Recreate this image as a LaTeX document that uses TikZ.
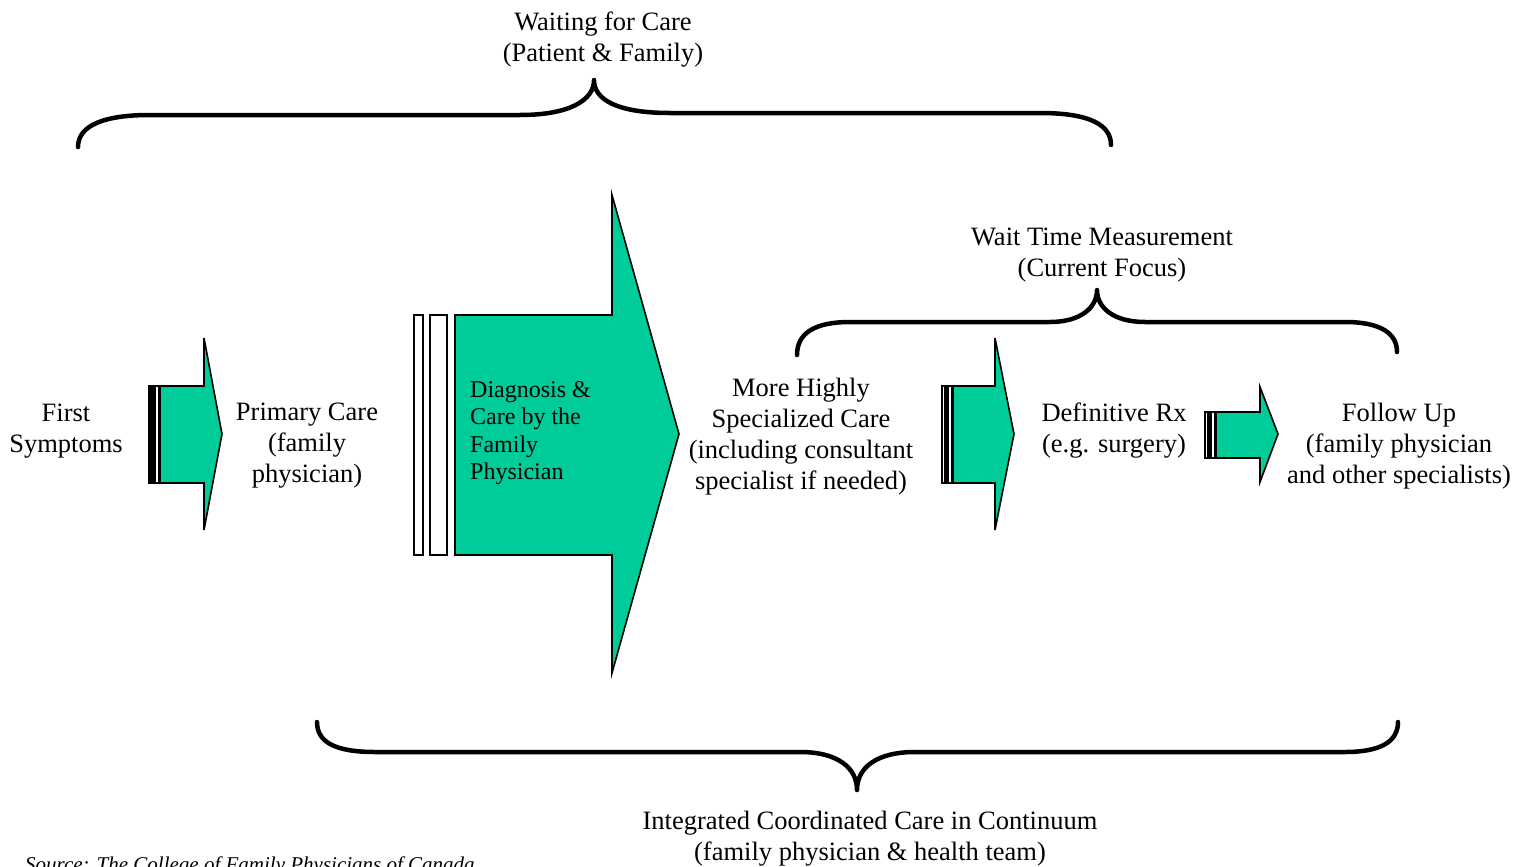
\documentclass[tikz,border=0pt]{standalone}
\usepackage{fontspec}
\setmainfont{Liberation Serif}
\definecolor{pgreen}{RGB}{0,204,153}
\tikzset{
  lbl/.style={inner sep=0pt, align=center, font=\fontsize{26.5}{31}\selectfont},
  lblsmall/.style={inner sep=0pt, align=left, font=\fontsize{24}{27.5}\selectfont},
  brace/.style={line width=4.5pt, line cap=round, line join=round},
  arrowbody/.style={draw=black, fill=pgreen, line width=1.6pt, line join=miter},
  stripe/.style={draw=black, fill=white, line width=1.6pt}
}
\begin{document}
\begin{tikzpicture}[x=1pt,y=-1pt]
\useasboundingbox (0,0) rectangle (1528,867);
% arrow 1
\draw[stripe, line width=2.2pt] (149.5,386) rectangle (152.5,483);
\draw[stripe] (155,386) rectangle (158.5,483);
\draw[arrowbody] (160,386) -- (204,386) -- (204,338) -- (222,434) -- (204,530) -- (204,483) -- (160,483) -- cycle;
% big arrow
\draw[stripe] (414,315) rectangle (423,555);
\draw[stripe] (430,315) rectangle (447,555);
\draw[arrowbody] (455,315) -- (612,315) -- (612,195) -- (679,434) -- (612,673) -- (612,555) -- (455,555) -- cycle;
% arrow 3
\draw[stripe, line width=2.2pt] (942,386) rectangle (945.5,483);
\draw[stripe] (948,386) rectangle (951.5,483);
\draw[arrowbody] (953,386) -- (995,386) -- (995,338) -- (1014,434) -- (995,530) -- (995,483) -- (953,483) -- cycle;
% arrow 4
\draw[stripe, line width=2.2pt] (1205,412) rectangle (1208.5,458);
\draw[stripe] (1211,412) rectangle (1214.5,458);
\draw[arrowbody] (1216,412) -- (1260,412) -- (1260,387) -- (1278,434) -- (1260,482) -- (1260,458) -- (1216,458) -- cycle;
% texts
\node[lbl] (wait) at (603,40) {Waiting for Care\\(Patient \& Family)};
\node[lbl] (wtm) at (1102,255) {Wait Time Measurement\\(Current Focus)};
\node[lbl] (icc) at (870,839) {Integrated Coordinated Care in Continuum\\(family physician \& health team)};
\node[lbl] (first) at (66,431) {First\\Symptoms};
\node[lbl] (prim) at (307,446) {Primary Care\\(family\\physician)};
\node[lblsmall, anchor=west] (diag) at (470,433) {Diagnosis \&\\Care by the\\Family\\Physician};
\node[lbl] (more) at (801,437) {More Highly\\Specialized Care\\(including consultant\\specialist if needed)};
\node[lbl] (defn) at (1114,431) {Definitive Rx\\(e.g. surgery)};
\node[lbl] (follow) at (1399,446) {Follow Up\\(family physician\\and other specialists)};
\node[inner sep=0pt, anchor=base west, font=\fontsize{21}{24}\selectfont\itshape] (src) at (25,871) {Source: The College of Family Physicians of Canada};
% braces
\draw[brace] (78,147) .. controls (78,125) and (105,115) .. (150,115) -- (520,115)
  .. controls (570,115) and (594,100) .. (594,80)
  .. controls (594,100) and (618,113) .. (670,113) -- (1040,113)
  .. controls (1090,113) and (1111,125) .. (1111,145);
\draw[brace] (797,355) .. controls (797,333) and (815,322) .. (850,322) -- (1050,322)
  .. controls (1080,322) and (1097,308) .. (1097,290)
  .. controls (1097,308) and (1114,322) .. (1145,322) -- (1345,322)
  .. controls (1380,322) and (1397,333) .. (1397,352);
\draw[brace] (317,722) .. controls (317,742) and (335,752) .. (375,752) -- (800,752)
  .. controls (838,752) and (857,768) .. (857,790)
  .. controls (857,768) and (876,752) .. (915,752) -- (1345,752)
  .. controls (1380,752) and (1398,742) .. (1398,722);
\end{tikzpicture}
\end{document}
